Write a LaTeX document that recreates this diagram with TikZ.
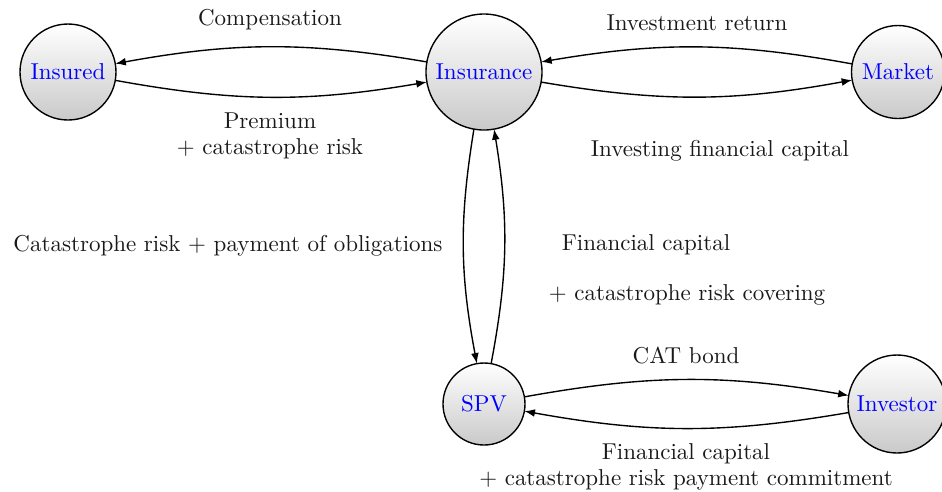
\documentclass[tikz,border=0pt]{standalone}
\usetikzlibrary{arrows.meta}
\begin{document}
\begin{tikzpicture}[x=0.435pt,y=-0.435pt,
  ent/.style={circle,draw,semithick,inner sep=0pt,outer sep=0pt,
    top color=white,bottom color=gray!42,text=blue},
  flow/.style={-{Latex[length=4.6pt,width=3.4pt]},semithick},
  lbl/.style={text=black!90,align=center,inner sep=0pt}]
\useasboundingbox (0,0) rectangle (942,491);
\node[ent,minimum size=96*0.435pt] (insured) at (68,72) {Insured};
\node[ent,minimum size=116*0.435pt] (insurance) at (484,72) {Insurance};
\node[ent,minimum size=93*0.435pt] (market) at (898,72) {Market};
\node[ent,minimum size=82*0.435pt] (spv) at (484,404) {SPV};
\node[ent,minimum size=98*0.435pt] (investor) at (897,404) {Investor};

\draw[flow] (insurance) to[bend right=10] (insured);
\draw[flow] (insured) to[bend right=10] (insurance);
\draw[flow] (market) to[bend right=10] (insurance);
\draw[flow] (insurance) to[bend right=10] (market);
\draw[flow] (insurance) to[bend right=10] (spv);
\draw[flow] (spv) to[bend right=10] (insurance);
\draw[flow] (spv) to[bend left=10] (investor);
\draw[flow] (investor) to[bend left=10] (spv);

\node[lbl] (l1) at (270,20) {Compensation};
\node[lbl] (l2) at (270,136) {Premium\\[-1pt]+ catastrophe risk};
\node[lbl] (l3) at (697,23) {Investment return};
\node[lbl] (l4) at (720,151) {Investing financial capital};
\node[lbl] (l5) at (228,246) {Catastrophe risk + payment of obligations};
\node[lbl] (l6) at (646,245) {Financial capital};
\node[lbl] (l7) at (687,295) {+ catastrophe risk covering};
\node[lbl] (l8) at (686,356) {CAT bond};
\node[lbl] (l9) at (686,467) {Financial capital\\[-1pt]+ catastrophe risk payment commitment};
\end{tikzpicture}
\end{document}
